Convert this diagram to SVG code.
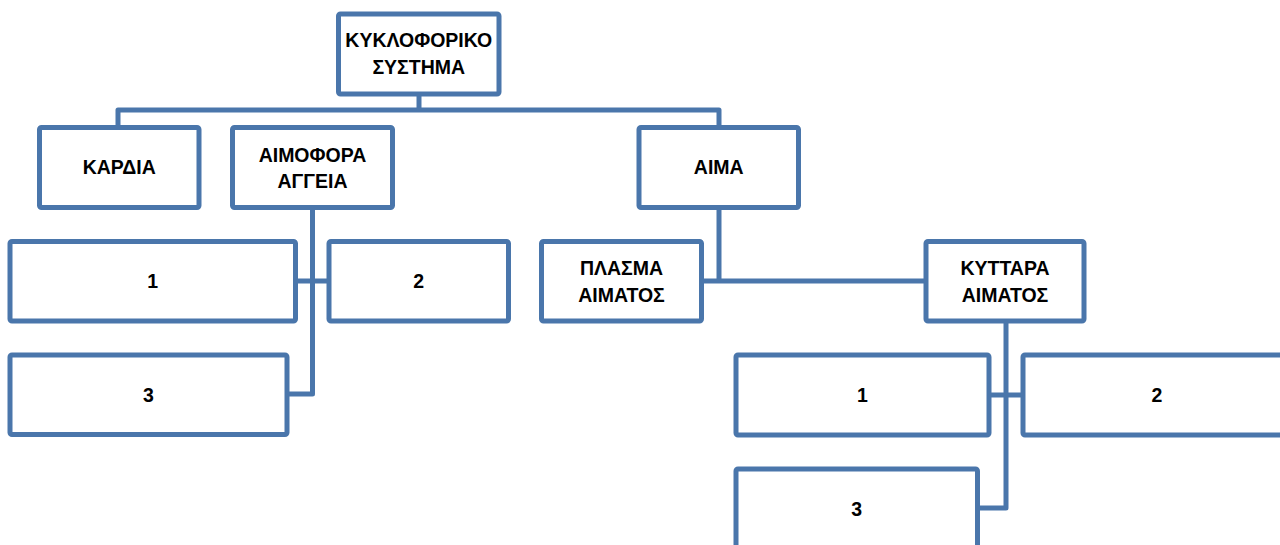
<svg xmlns="http://www.w3.org/2000/svg" width="1280" height="545" viewBox="0 0 1280 545">
  <style>
    .box { fill: #ffffff; stroke: #4a76ab; stroke-width: 5; }
    .link { fill: none; stroke: #4a76ab; stroke-width: 5; stroke-linejoin: round; }
    .lbl { font-family: "Liberation Sans", Arial, sans-serif; font-weight: bold; font-size: 19.5px; fill: #000000; text-anchor: middle; }
  </style>

  <!-- connectors -->
  <g id="connectors">
    <path class="link" d="M419,94 V110"/>
    <path class="link" d="M118,127.5 V110 H719 V127.5"/>
    <path class="link" d="M312.5,207.5 V394 H287"/>
    <path class="link" d="M295.5,281 H329"/>
    <path class="link" d="M719,207.5 V281"/>
    <path class="link" d="M701.5,281 H926"/>
    <path class="link" d="M1006,321 V508 H977.5"/>
    <path class="link" d="M989,395 H1023"/>
  </g>

  <g id="kykloforiko">
    <rect class="box" x="338.5" y="14" width="160.5" height="80" rx="2"/>
    <text class="lbl" x="418.75" y="47">ΚΥΚΛΟΦΟΡΙΚΟ</text>
    <text class="lbl" x="418.75" y="74">ΣΥΣΤΗΜΑ</text>
  </g>

  <g id="kardia">
    <rect class="box" x="39.5" y="127.5" width="159.5" height="80" rx="2"/>
    <text class="lbl" x="119.25" y="174">ΚΑΡΔΙΑ</text>
  </g>

  <g id="aimofora">
    <rect class="box" x="232.5" y="127.5" width="160" height="80" rx="2"/>
    <text class="lbl" x="312.5" y="161.5">ΑΙΜΟΦΟΡΑ</text>
    <text class="lbl" x="312.5" y="188">ΑΓΓΕΙΑ</text>
  </g>

  <g id="aima">
    <rect class="box" x="639" y="127.5" width="159.5" height="80" rx="2"/>
    <text class="lbl" x="718.75" y="174">ΑΙΜΑ</text>
  </g>

  <g id="aggeia-1">
    <rect class="box" x="10" y="241.5" width="285.5" height="79.5" rx="2"/>
    <text class="lbl" x="152.75" y="288">1</text>
  </g>

  <g id="aggeia-2">
    <rect class="box" x="329" y="241.5" width="179.5" height="79.5" rx="2"/>
    <text class="lbl" x="418.75" y="288">2</text>
  </g>

  <g id="aggeia-3">
    <rect class="box" x="10" y="355" width="277" height="79.5" rx="2"/>
    <text class="lbl" x="148.5" y="401.5">3</text>
  </g>

  <g id="plasma">
    <rect class="box" x="541.5" y="241.5" width="160" height="79.5" rx="2"/>
    <text class="lbl" x="621.5" y="275">ΠΛΑΣΜΑ</text>
    <text class="lbl" x="621.5" y="301.5">ΑΙΜΑΤΟΣ</text>
  </g>

  <g id="kyttara">
    <rect class="box" x="926" y="241.5" width="158" height="79.5" rx="2"/>
    <text class="lbl" x="1005" y="275">ΚΥΤΤΑΡΑ</text>
    <text class="lbl" x="1005" y="301.5">ΑΙΜΑΤΟΣ</text>
  </g>

  <g id="kyttara-1">
    <rect class="box" x="736" y="355" width="253" height="80" rx="2"/>
    <text class="lbl" x="862.5" y="401.5">1</text>
  </g>

  <g id="kyttara-2">
    <rect class="box" x="1023" y="355" width="268" height="80" rx="2"/>
    <text class="lbl" x="1157" y="401.5">2</text>
  </g>

  <g id="kyttara-3">
    <rect class="box" x="736" y="469" width="241.5" height="80" rx="2"/>
    <text class="lbl" x="856.75" y="516">3</text>
  </g>
</svg>
